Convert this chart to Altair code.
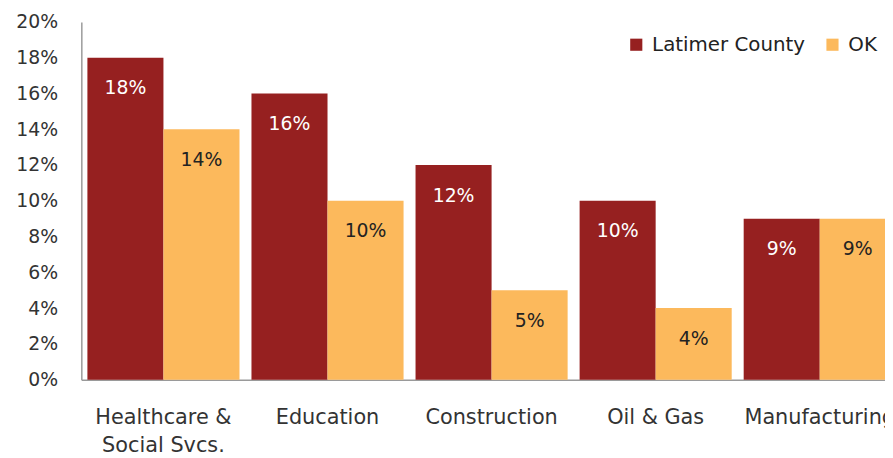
import altair as alt
import pandas as pd

categories = ["Healthcare &\nSocial Svcs.", "Education", "Construction", "Oil & Gas", "Manufacturing"]
series = ["Latimer County", "OK"]
latimer = [0.18, 0.16, 0.12, 0.10, 0.09]
ok = [0.14, 0.10, 0.05, 0.04, 0.09]
y_ticks = [0, 0.02, 0.04, 0.06, 0.08, 0.1, 0.12, 0.14, 0.16, 0.18, 0.2]

rows = []
for c, a, b in zip(categories, latimer, ok):
    rows.append({"category": c, "series": series[0], "value": a})
    rows.append({"category": c, "series": series[1], "value": b})
df = pd.DataFrame(rows)

FONT = "DejaVu Sans"
RED = "#962020"
ORANGE = "#FCB95C"

x = alt.X("category:N", sort=categories, title=None,
          scale=alt.Scale(paddingInner=0.073, paddingOuter=0.037, range=[0, 828]),
          axis=alt.Axis(labelAngle=0, labelFont=FONT, labelFontSize=21, labelColor="#333333",
                        labelPadding=27, labelLineHeight=29, ticks=False, labelOverlap=False,
                        domainColor="#9a9a9a", domainWidth=1.5,
                        labelExpr="split(datum.label, '\\n')"))
xoff = alt.XOffset("series:N", sort=series, scale=alt.Scale(paddingInner=0, paddingOuter=0))
y = alt.Y("value:Q", title=None,
          scale=alt.Scale(domain=[0, 0.2], nice=False, zero=True),
          axis=alt.Axis(values=y_ticks, labelOverlap=False, tickCount=11,
                        format=".0%", grid=False, ticks=False, labelPadding=24,
                        labelFont=FONT, labelFontSize=19, labelColor="#333333",
                        domainColor="#9a9a9a", domainWidth=1.5))

bars = alt.Chart(df).mark_bar().encode(
    x=x,
    xOffset=xoff,
    y=y,
    color=alt.Color("series:N", sort=series,
                    scale=alt.Scale(domain=series, range=[RED, ORANGE]),
                    legend=alt.Legend(title=None, orient="none", direction="horizontal",
                                      legendX=550, legendY=13,
                                      symbolType="square", symbolSize=150, symbolStrokeWidth=0,
                                      labelFont=FONT, labelFontSize=20, labelColor="#222222",
                                      columnPadding=17, labelOffset=6)),
)

labels = alt.Chart(df).mark_text(baseline="middle", dy=31, font=FONT, fontSize=19).encode(
    x=x,
    xOffset=xoff,
    y=y,
    text=alt.Text("value:Q", format=".0%"),
    color=alt.Color("series:N", scale=alt.Scale(domain=series, range=["#ffffff", "#222222"]), legend=None),
)

chart = alt.layer(bars, labels).resolve_scale(color="independent").properties(
    width=811, height=361,
    autosize=alt.AutoSizeParams(type="none"),
    padding={"left": 74, "top": 12, "right": 0, "bottom": 78},
).configure_view(stroke=None)

chart.save("out.html", embed_options={"renderer": "svg", "actions": False})
